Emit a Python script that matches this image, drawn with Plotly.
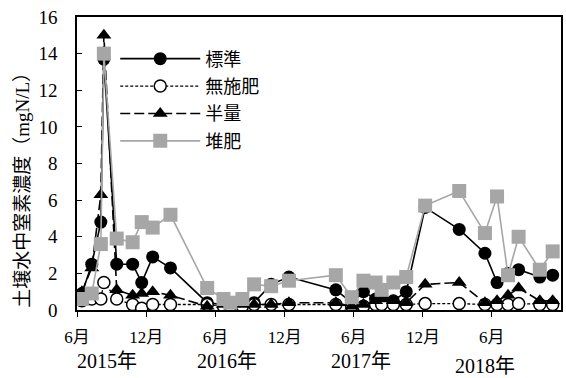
import plotly.graph_objects as go

# Sampling dates (shared by all plots)
dates = [
    "2015-06-14", "2015-07-10", "2015-08-03", "2015-08-11", "2015-09-14",
    "2015-10-26", "2015-11-19", "2015-12-18", "2016-02-03", "2016-05-10",
    "2016-06-22", "2016-07-10", "2016-08-11", "2016-09-11", "2016-10-26",
    "2016-12-12", "2017-04-15", "2017-05-27", "2017-06-27", "2017-07-29",
    "2017-08-14", "2017-09-14", "2017-10-18", "2017-12-07", "2018-03-07",
    "2018-05-14", "2018-06-15", "2018-07-14", "2018-08-11", "2018-10-06",
    "2018-11-09",
]

# Soil-water nitrogen concentration (mgN/L) per treatment
standard = [0.9, 2.5, 4.8, 13.7, 2.5, 2.5, 1.5, 2.9, 2.3, 0.4,
            0.3, 0.3, 0.5, 0.4, 1.4, 1.8, 1.1, 0.4, 1.0, 0.6,
            0.8, 0.5, 1.0, 5.6, 4.4, 3.1, 1.5, 2.0, 2.2, 1.8,
            1.9]
no_fert = [0.5, 0.6, 0.6, 1.5, 0.6, 0.3, 0.1, 0.3, 0.3, 0.3,
           0.2, 0.2, 0.2, 0.3, 0.3, 0.3, 0.3, 0.2, 0.2, 0.3,
           0.3, 0.3, 0.3, 0.35, 0.35, 0.3, 0.3, 0.3, 0.35, 0.3,
           0.3]
half = [1.0, 2.3, 6.3, 15.0, 1.1, 0.8, 0.9, 1.0, 0.8, 0.2,
        0.3, 0.3, 0.3, 0.3, 0.3, 0.4, 0.4, 0.2, 0.3, 0.5,
        0.6, 0.5, 0.4, 1.4, 1.5, 0.4, 0.5, 0.8, 1.2, 0.5,
        0.5]
compost = [0.6, 0.9, 3.6, 14.0, 3.9, 3.7, 4.8, 4.5, 5.2, 1.2,
           0.6, 0.4, 0.6, 1.4, 1.3, 1.6, 1.9, 0.7, 1.6, 1.5,
           1.1, 1.5, 1.8, 5.7, 6.5, 4.2, 6.2, 1.9, 4.0, 2.2,
           3.2]

tick_dates = ["2015-06-01", "2015-12-01", "2016-06-01", "2016-12-01",
              "2017-06-01", "2017-12-01", "2018-06-01"]
tick_labels = ["6月", "12月", "6月", "12月", "6月", "12月", "6月"]
year_labels = ["2015年", "2016年", "2017年", "2018年"]
year_pos = [0.062, 0.309, 0.586, 0.842]
year_y = [-0.175, -0.175, -0.175, -0.19]
y_title = "土壌水中窒素濃度（mgN/L）"

FONT = "Liberation Serif, Times New Roman, Noto Sans CJK JP"
GRAY = "#A6A6A6"

fig = go.Figure()
fig.add_trace(go.Scatter(
    x=dates, y=standard, name="標準", mode="lines+markers",
    line=dict(color="black", width=1.6),
    marker=dict(symbol="circle", size=13, color="black"),
    legendgroup="a"))
fig.add_trace(go.Scatter(
    x=dates, y=no_fert, name="無施肥", mode="lines+markers",
    line=dict(color="black", width=1.3, dash="3px,2px"),
    marker=dict(symbol="circle", size=12, color="white",
                line=dict(color="black", width=1.5)),
    legendgroup="b"))
fig.add_trace(go.Scatter(
    x=dates, y=half, name="半量", mode="lines+markers",
    line=dict(color="black", width=1.6, dash="10px,4px"),
    marker=dict(symbol="triangle-up", size=13, color="black"),
    legendgroup="c"))
fig.add_trace(go.Scatter(
    x=dates, y=compost, name="堆肥", mode="lines+markers",
    line=dict(color=GRAY, width=1.6),
    marker=dict(symbol="square", size=14, color=GRAY),
    legendgroup="d"))

for txt, px, py in zip(year_labels, year_pos, year_y):
    fig.add_annotation(text=txt, x=px, y=py, xref="paper", yref="paper",
                       showarrow=False, xanchor="center", yanchor="middle",
                       font=dict(family=FONT, size=20, color="black"))

# Vertical axis title
fig.add_annotation(text=y_title, x=-0.113, y=0.425, xref="paper", yref="paper",
                   showarrow=False, textangle=-90, xanchor="center",
                   yanchor="middle",
                   font=dict(family=FONT, size=19, color="black"))

fig.update_layout(
    width=566, height=378,
    margin=dict(l=77, r=3, t=17, b=68),
    paper_bgcolor="white", plot_bgcolor="white",
    font=dict(family=FONT, size=18, color="black"),
    showlegend=True,
    legend=dict(x=0.079, y=0.92, xanchor="left", yanchor="top",
                bgcolor="rgba(0,0,0,0)", font=dict(family=FONT, size=18),
                itemwidth=80, tracegroupgap=1),
    xaxis=dict(
        type="date", range=["2015-06-01", "2018-12-01"],
        tickvals=tick_dates, ticktext=tick_labels,
        ticks="outside", ticklen=5, tickcolor="black",
        ticklabelstandoff=6,
        showline=True, linecolor="black", linewidth=1.5, mirror=True,
        showgrid=False, zeroline=False,
        tickfont=dict(family=FONT, size=17)),
    yaxis=dict(
        range=[0, 16], dtick=2,
        ticks="inside", ticklen=5, tickcolor="black",
        ticklabelstandoff=14,
        showline=True, linecolor="black", linewidth=1.5, mirror=True,
        showgrid=False, zeroline=False,
        tickfont=dict(family=FONT, size=19)),
)

fig.write_html("out.html")
